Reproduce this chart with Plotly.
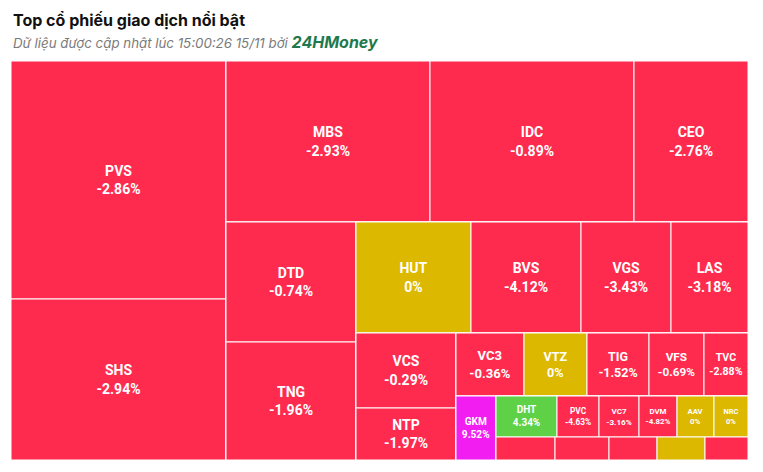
import plotly.graph_objects as go

# ---- data ----
tickers = ["PVS", "SHS", "MBS", "IDC", "CEO", "DTD", "TNG", "HUT", "BVS", "VGS", "LAS",
           "VCS", "NTP", "VC3", "VTZ", "TIG", "VFS", "TVC", "GKM", "DHT", "PVC", "VC7",
           "DVM", "AAV", "NRC", "Mã 26", "Mã 27", "Mã 28", "Mã 29", "Mã 30"]
changes = [-2.86, -2.94, -2.93, -0.89, -2.76, -0.74, -1.96, 0.0, -4.12, -3.43, -3.18,
           -0.29, -1.97, -0.36, 0.0, -1.52, -0.69, -2.88, 9.52, 4.34, -4.63, -3.16,
           -4.82, 0.0, 0.0, -1.0, -1.0, -1.0, 0.0, -1.0]
volumes = [51170, 34615, 32844, 32844, 18354, 15600, 15340, 12765, 12210, 9990, 8547,
           7500, 5200, 4284, 3969, 3906, 3465, 2772, 2560, 2501, 1722, 1640,
           1558, 1517, 1394, 1357, 1242, 1104, 1104, 989]
# number of tickers in each strip of the layout (alternating column / row)
strips = [2, 3, 2, 4, 2, 5, 1, 6, 5]
label_threshold = 1380  # cells smaller than this show no label

# ---- styles ----
RED = "#FF2B4F"
GOLD = "#DDB800"
GREEN = "#5ED147"
PURPLE = "#F21DF0"
CYAN = "#1FC7E6"


def color_for(ch):
    if ch >= 9.5:
        return PURPLE
    if ch <= -9.5:
        return CYAN
    if ch > 0:
        return GREEN
    if ch == 0:
        return GOLD
    return RED


def fmt(ch):
    return "0%" if ch == 0 else f"{ch:.2f}%"


ids, labels, parents, values, colors, texts, sizes = [], [], [], [], [], [], []


def add(node_id, label, parent, value, color, text, size):
    ids.append(node_id); labels.append(label); parents.append(parent)
    values.append(value); colors.append(color); texts.append(text); sizes.append(size)


add("root", "Tất cả", "", 0, RED, "", 10)
parent = "root"
i = 0
for k, n in enumerate(strips):
    last = k == len(strips) - 1
    if last:
        grp = parent
    else:
        grp = f"g{k}"
        add(grp, "", parent, 0, RED, "", 10)
    for j in range(n):
        t, ch, v = tickers[i], changes[i], volumes[i]
        txt = f"{t}<br>{fmt(ch)}" if v >= label_threshold else ""
        size = min(14, max(6, 0.2 * v ** 0.5))
        add(t, t, grp, v, color_for(ch), txt, size)
        i += 1
    if not last:
        rest = f"r{k}"
        add(rest, "", parent, 0, RED, "", 10)
        parent = rest

fig = go.Figure(go.Treemap(
    ids=ids, labels=labels, parents=parents, values=values,
    branchvalues="remainder", sort=False,
    text=texts, texttemplate="%{text}", textposition="middle center",
    textfont=dict(family="Roboto", color="white", size=sizes, weight="bold"),
    marker=dict(colors=colors, line=dict(color="white", width=1),
                pad=dict(t=0, l=0, r=0, b=0), depthfade=False),
    tiling=dict(packing="slice-dice", pad=0),
    pathbar=dict(visible=False),
    hovertemplate="%{label}<br>%{value}<extra></extra>",
))

# the page body adds an 8px offset, compensated in size/margins
fig.update_layout(
    width=755, height=464,
    margin=dict(l=3, r=15, t=53, b=12),
    paper_bgcolor="white",
    showlegend=False,
    annotations=[
        dict(text="<b>Top cổ phiếu giao dịch nổi bật</b>", xref="paper", yref="paper",
             x=0, y=1 + (61 - 20) / 399, xanchor="left", yanchor="middle", showarrow=False,
             font=dict(family="Inter", size=16, color="#111111")),
        dict(text="<i>Dữ liệu được cập nhật lúc 15:00:26 15/11 bởi </i>"
                  "<b><i><span style='color:#1E7A4E;font-size:16px'>24HMoney</span></i></b>",
             xref="paper", yref="paper",
             x=0, y=1 + (61 - 42) / 399, xanchor="left", yanchor="middle", showarrow=False,
             font=dict(family="Inter", size=13.3, color="#7A7A7A")),
    ],
)

fig.write_html("out.html")
